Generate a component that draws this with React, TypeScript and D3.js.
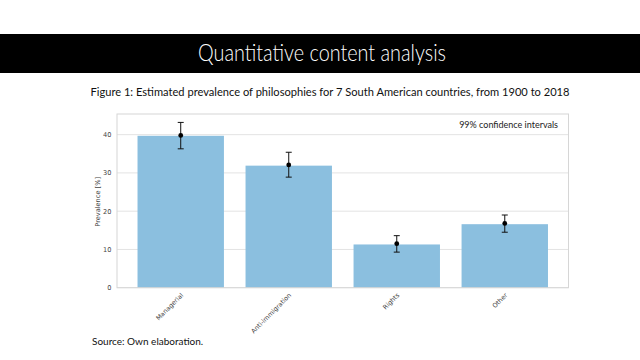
import React from "react";
import * as d3 from "d3";

const categories = ["Managerial", "Anti-immigration", "Rights", "Other"];
const prevalence = [39.7, 31.9, 11.3, 16.6];
const pointEst = [39.8, 32.1, 11.5, 16.8];
const ciLow = [36.3, 28.9, 9.3, 14.5];
const ciHigh = [43.2, 35.4, 13.6, 19.0];
const yTicks = [0, 10, 20, 30, 40];

const W = 640, H = 360;
const plot = { left: 117, right: 568.5, top: 114, bottom: 287.7 };

export default function App() {
  const n = categories.length;
  const x = d3.scaleLinear().domain([-0.59, n - 1 + 0.59]).range([plot.left, plot.right]);
  const y = d3.scaleLinear().domain([0, 45.4]).range([plot.bottom, plot.top]);
  const bw = x(0.4) - x(-0.4);
  const tickFont = "DejaVu Sans, sans-serif";
  const slideFont = "Lato, 'Open Sans', sans-serif";

  return (
    <svg width={W} height={H} style={{ position: "absolute", left: 0, top: 0, background: "#fff" }}>
      <rect x={0} y={0} width={W} height={H} fill="#fff" />
      <rect x={0} y={34} width={W} height={39} fill="#000" />
      <text x={322} y={61} textAnchor="middle" fill="#fff" fontFamily={slideFont} fontWeight={300} fontSize={23} textLength={248} lengthAdjust="spacingAndGlyphs">
        Quantitative content analysis
      </text>
      <text x={330} y={96} textAnchor="middle" fill="#111" fontFamily={slideFont} fontSize={12} textLength={479} lengthAdjust="spacingAndGlyphs">
        Figure 1: Estimated prevalence of philosophies for 7 South American countries, from 1900 to 2018
      </text>

      {/* grid */}
      {yTicks.map((t) => (
        <line key={t} x1={plot.left} x2={plot.right} y1={y(t)} y2={y(t)} stroke="#e3e3e3" strokeWidth={1} />
      ))}
      {/* bars */}
      {prevalence.map((v, i) => (
        <rect key={i} x={x(i) - bw / 2} y={y(v)} width={bw} height={y(0) - y(v)} fill="#8bbfdf" />
      ))}
      {/* frame */}
      <rect x={plot.left} y={plot.top} width={plot.right - plot.left} height={plot.bottom - plot.top} fill="none" stroke="#d6d6d6" strokeWidth={1} />
      {/* error bars */}
      {categories.map((c, i) => (
        <g key={c} stroke="#111" strokeWidth={1}>
          <line x1={x(i)} x2={x(i)} y1={y(ciLow[i])} y2={y(ciHigh[i])} />
          <line x1={x(i) - 3} x2={x(i) + 3} y1={y(ciLow[i])} y2={y(ciLow[i])} />
          <line x1={x(i) - 3} x2={x(i) + 3} y1={y(ciHigh[i])} y2={y(ciHigh[i])} />
          <circle cx={x(i)} cy={y(pointEst[i])} r={2.4} fill="#000" stroke="none" />
        </g>
      ))}
      {/* y ticks */}
      {yTicks.map((t) => (
        <text key={t} x={plot.left - 5.5} y={y(t) + 2.4} textAnchor="end" fontFamily={tickFont} fontSize={6.6} fill="#444">
          {t}
        </text>
      ))}
      <text transform={`translate(100,${(plot.top + plot.bottom) / 2 + 1}) rotate(-90)`} textAnchor="middle" fontFamily={tickFont} fontSize={6.6} fill="#444">
        Prevalence [%]
      </text>
      {/* x labels */}
      {categories.map((c, i) => (
        <text key={c} transform={`translate(${x(i) + 3},${plot.bottom + 8}) rotate(-45)`} textAnchor="end" fontFamily={tickFont} fontSize={6.4} fill="#444">
          {c}
        </text>
      ))}
      <text x={558} y={128} textAnchor="end" fontFamily={slideFont} fontSize={9} fill="#222">
        99% confidence intervals
      </text>
      <text x={92} y={345} fontFamily={slideFont} fontSize={10} fill="#111">
        Source: Own elaboration.
      </text>
    </svg>
  );
}
